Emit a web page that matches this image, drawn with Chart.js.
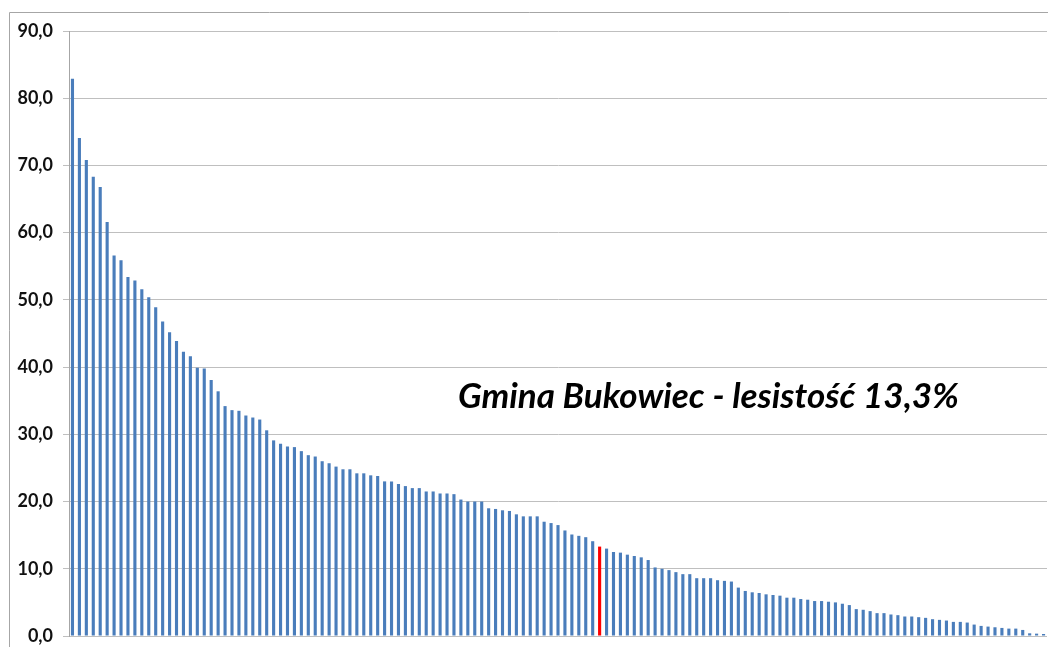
<!DOCTYPE html>
<html lang="pl">
<head>
<meta charset="utf-8">
<title>Lesistość gmin</title>
<script src="https://cdn.jsdelivr.net/npm/chart.js@4/dist/chart.umd.min.js"></script>
<style>
  html, body { margin: 0; padding: 0; background: #ffffff; }
  #wrap { position: relative; width: 1048px; height: 647px; }
</style>
</head>
<body>
<div id="wrap"><canvas id="lesistoscChart" width="1048" height="647"></canvas></div>
<script>
// Lesistość gmin (%) - posortowane malejąco
const lesistosc = [
  82.9, 74.1, 70.8, 68.3, 66.8, 61.6, 56.6, 55.9, 53.4, 52.9,
  51.6, 50.4, 48.9, 46.8, 45.2, 43.9, 42.3, 41.6, 39.9, 39.8,
  38.1, 36.4, 34.2, 33.6, 33.5, 32.8, 32.5, 32.2, 30.6, 29.1,
  28.6, 28.2, 28.1, 27.5, 26.9, 26.7, 26.0, 25.7, 25.2, 24.8,
  24.8, 24.2, 24.2, 23.9, 23.8, 23.0, 23.0, 22.6, 22.3, 22.0,
  22.0, 21.5, 21.5, 21.2, 21.2, 21.1, 20.3, 20.0, 20.0, 20.0,
  19.0, 18.9, 18.7, 18.6, 18.1, 17.8, 17.8, 17.8, 17.0, 16.8,
  16.5, 15.7, 15.1, 14.9, 14.7, 14.1, 13.3, 13.0, 12.5, 12.4,
  12.1, 11.9, 11.7, 11.3, 10.2, 10.0, 9.8, 9.5, 9.2, 9.2,
  8.6, 8.6, 8.6, 8.3, 8.2, 8.1, 7.2, 6.7, 6.5, 6.4,
  6.2, 6.1, 6.0, 5.7, 5.7, 5.5, 5.4, 5.2, 5.2, 5.1,
  5.0, 4.8, 4.6, 4.0, 3.9, 3.7, 3.4, 3.4, 3.2, 3.1,
  2.9, 2.9, 2.8, 2.7, 2.5, 2.4, 2.3, 2.1, 2.1, 2.0,
  1.7, 1.5, 1.4, 1.3, 1.2, 1.1, 1.1, 0.9, 0.4, 0.35,
  0.3
];

// Kategorie = miejsce w rankingu gmin
const gminy = lesistosc.map((_, i) => String(i + 1));

// Gmina Bukowiec (wyróżniona na czerwono)
const bukowiecIndex = 76;
const podpis = "Gmina Bukowiec - lesistość 13,3%";

// Oś Y
const yTicks = [0, 10, 20, 30, 40, 50, 60, 70, 80, 90];

const kolorSlupka = "#4a7dbb";
const kolorBukowiec = "#ff0000";
const kolory = lesistosc.map((_, i) => (i === bukowiecIndex ? kolorBukowiec : kolorSlupka));

// Ramka wykresu i podpis gminy
const ramkaPlugin = {
  id: "ramka",
  beforeDraw(chart) {
    const ctx = chart.ctx;
    ctx.save();
    ctx.fillStyle = "#ffffff";
    ctx.fillRect(0, 0, chart.width, chart.height);
    ctx.strokeStyle = "#a6a6a6";
    ctx.lineWidth = 1;
    ctx.beginPath();
    ctx.moveTo(9.5, chart.height + 5);
    ctx.lineTo(9.5, 12.5);
    ctx.lineTo(chart.width + 5, 12.5);
    ctx.stroke();
    ctx.restore();
  },
  afterDraw(chart) {
    const ctx = chart.ctx;
    ctx.save();
    ctx.font = "italic bold 35px Lato";
    ctx.fillStyle = "#000000";
    ctx.textAlign = "left";
    ctx.textBaseline = "alphabetic";
    ctx.fillText(podpis, 458, 408);
    ctx.restore();
  }
};

const ctx = document.getElementById("lesistoscChart").getContext("2d");
new Chart(ctx, {
  type: "bar",
  data: {
    labels: gminy,
    datasets: [
      {
        label: "Lesistość (%)",
        data: lesistosc,
        backgroundColor: kolory,
        borderWidth: 0,
        categoryPercentage: 1.0,
        barPercentage: 0.45,
      },
    ],
  },
  options: {
    responsive: false,
    animation: false,
    layout: { padding: { left: 16, right: 1, top: 31, bottom: 11 } },
    scales: {
      x: { display: false },
      y: {
        min: 0,
        max: 90,
        afterBuildTicks: (scale) => {
          scale.ticks = yTicks.map((v) => ({ value: v }));
        },
        afterFit: (scale) => {
          scale.width = 53;
          // bez dodatkowego odstępu góra/dół od etykiet
          scale.paddingTop = 0;
          scale.paddingBottom = 0;
        },
        ticks: {
          padding: 10,
          color: "#111111",
          font: { family: "Lato", weight: "bold", size: 18 },
          callback: (value) => value.toFixed(1).replace(".", ","),
        },
        grid: {
          color: "#bfbfbf",
          lineWidth: 1,
          tickLength: 6,
          drawTicks: true,
        },
        border: { display: true, color: "#a6a6a6" },
      },
    },
    plugins: {
      legend: { display: false },
      tooltip: { enabled: false },
    },
  },
  plugins: [ramkaPlugin],
});
</script>
</body>
</html>
